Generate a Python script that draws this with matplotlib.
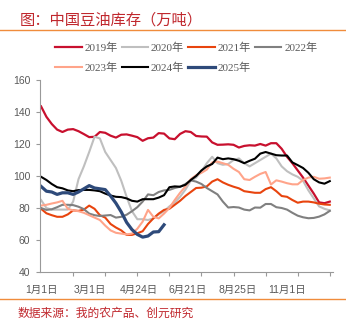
import numpy as np
import matplotlib
matplotlib.use("Agg")
import matplotlib.pyplot as plt
from matplotlib.lines import Line2D

# weekly soybean oil stocks, 10k tonnes
s2019 = [143.5, 137, 132.5, 129, 127.5, 129, 129.3, 128, 126.2, 124.3,
         124.5, 127.5, 127, 125.2, 124, 125.8, 126, 125.2, 124.3, 122,
         123.6, 124, 126.8, 126.5, 123.5, 123, 126.3, 128, 127.5, 125,
         124.7, 124.6, 121, 119.5, 119.6, 119.8, 119.5, 117.8, 118.8, 119.2,
         119, 120, 119, 120.5, 120.5, 117, 112, 108, 103.5, 99,
         94, 89, 83.5, 83, 84]
s2020 = [85, 80, 79, 79, 79, 79, 84, 98, 106, 115,
         124.5, 123.5, 115, 110, 105, 97, 87, 78, 73, 73,
         72.5, 73.5, 76, 78, 81, 83.5, 87, 91.5, 97, 99,
         103, 108, 112, 108, 107, 107.5, 110, 111, 108, 106,
         108, 110, 112, 114, 111, 106, 103, 101, 99.5, 97,
         91, 86, 81, 79.5, 78.5]
s2021 = [79.5, 76.7, 75.5, 74.5, 74.5, 76, 78.5, 78.2, 79, 81.5,
         79.5, 75.5, 74, 70, 67.8, 66, 63.2, 63.2, 64.2, 65.5,
         70, 73.5, 76.5, 78.8, 79.5, 82, 84.5, 87.5, 90, 92.5,
         92.7, 93.5, 96.5, 98, 96, 94.5, 93.3, 92.3, 90.5, 90,
         89.5, 89.5, 91.8, 93, 90.5, 87.5, 87, 85, 83.3, 84,
         84, 83.5, 82.7, 82.2, 82]
s2022 = [80, 78.8, 79.2, 80.5, 82, 82, 81.8, 80.8, 79.3, 76.5,
         75.5, 75, 75.3, 75.6, 74, 74.5, 75.8, 78, 80.5, 84,
         88.5, 88, 90, 91, 91.3, 92.5, 93.3, 95, 97.3, 96.5,
         95, 92.5, 90.5, 88.5, 84, 80.3, 80.6, 80.3, 79, 78.5,
         80.3, 80.2, 82.5, 82.5, 80.5, 80, 79, 77, 75.2, 74.2,
         73.6, 73.8, 74.6, 76, 78.2]
s2023 = [81.5, 82, 82.8, 83.5, 84.5, 79.5, 78.5, 78, 77, 75.5,
         74, 72.5, 69, 66, 64.5, 64, 63.5, 64, 67, 71.5,
         78.8, 74.5, 73.5, 76.5, 80, 85, 89.5, 93.5, 98, 100.5,
         102, 104, 108.5, 109, 108, 107, 104.5, 102.5, 98, 97.5,
         99.5, 101.3, 102.5, 94.7, 97.3, 96.5, 95.5, 94.8, 94.8, 97.5,
         99, 99.5, 98.3, 98.5, 99]
s2024 = [99.5, 97.5, 95, 93, 92.3, 91, 90.5, 91.2, 91.3, 91.3,
         91, 90.5, 89, 87.8, 87, 86.8, 86, 84.5, 84, 85.5,
         85.5, 85.5, 86.5, 88, 93, 93.5, 93.3, 94.5, 97.5, 100,
         103.5, 106, 107.5, 111.5, 110.5, 111, 110.5, 109.5, 108, 109.5,
         110.8, 114, 115, 114, 113, 112.8, 112.8, 108.5, 106.8, 105,
         102, 98, 96, 95.2, 96.8]
s2025 = [93.5, 90.5, 90, 88.5, 89.5, 89.5, 88.5, 90, 92, 94,
         92.5, 92, 91.5, 87.5, 83, 77.5, 71, 66.5, 63.5, 61.8,
         62.5, 65, 65.2, 69.5]

years = ["2019年", "2020年", "2021年", "2022年", "2023年", "2024年", "2025年"]
tick_labels = ["1月1日", "3月1日", "4月24日", "6月21日", "8月25日", "11月1日"]
tick_weeks = [0, 9.2, 18.3, 27.5, 36.7, 46]

colors = ["#C8102E", "#BFBFBF", "#E8440E", "#808080", "#FFA48A", "#000000", "#2E4A7A"]
widths = [1.6, 1.5, 1.5, 1.5, 1.5, 1.5, 2.3]

cjk = "Noto Sans CJK SC"
red = "#C0272D"

fig = plt.figure(figsize=(3.46, 3.27), dpi=100)
ax = fig.add_axes([40 / 346, 55 / 327, 293 / 346, 192 / 327])

series = [s2019, s2020, s2021, s2022, s2023, s2024, s2025]
handles = []
for vals, name, c, lw in zip(series, years, colors, widths):
    h, = ax.plot(np.arange(len(vals)), vals, color=c, lw=lw, label=name,
                 solid_joinstyle="round")
    handles.append(h)

ax.set_ylim(40, 160)
ax.set_yticks(range(40, 161, 20))
ax.set_xlim(-0.2, 54.6)
ax.set_xticks(np.arange(0, 55, 6), minor=True)
ax.set_xticks(tick_weeks, tick_labels)

for side in ["top", "right"]:
    ax.spines[side].set_visible(False)
for side in ["left", "bottom"]:
    ax.spines[side].set_color("#999999")
    ax.spines[side].set_linewidth(0.8)

ax.tick_params(axis="y", length=3, width=0.8, color="#999999", pad=4,
               labelsize=7.5, labelcolor="#595959")
ax.tick_params(axis="x", which="major", length=0, pad=9,
               labelsize=7.5, labelcolor="#595959")
ax.tick_params(axis="x", which="minor", length=3, width=0.8, color="#999999")
for t in ax.get_yticklabels():
    t.set_family(["Liberation Sans", cjk])
for t in ax.get_xticklabels():
    t.set_family(["Liberation Sans", cjk])

# legend fills column by column, so reorder to read row by row
order = [0, 4, 1, 5, 2, 6, 3]
leg = ax.legend([handles[i] for i in order], [years[i] for i in order],
                loc="upper left", bbox_to_anchor=(55 / 346, 1 - 43 / 327),
                bbox_transform=fig.transFigure, ncol=4, frameon=False,
                borderpad=0, borderaxespad=0, handlelength=2.4,
                handletextpad=0.25, columnspacing=0.35, labelspacing=0.8,
                prop={"family": ["Liberation Serif", cjk], "size": 8})
for t in leg.get_texts():
    t.set_color("#595959")

fig.text(20 / 346, 1 - 20 / 327, "图：中国豆油库存（万吨）", color=red,
         fontsize=11, family=[cjk], va="center", ha="left")
fig.text(18 / 346, 1 - 313 / 327, "数据来源：我的农产品、创元研究", color=red,
         fontsize=8.5, family=[cjk], va="center", ha="left")

for yy in [30, 299]:
    fig.add_artist(Line2D([0, 1], [1 - yy / 327, 1 - yy / 327],
                          transform=fig.transFigure, color="#F08C3C", lw=1))

fig.savefig("out.png", dpi=100)
